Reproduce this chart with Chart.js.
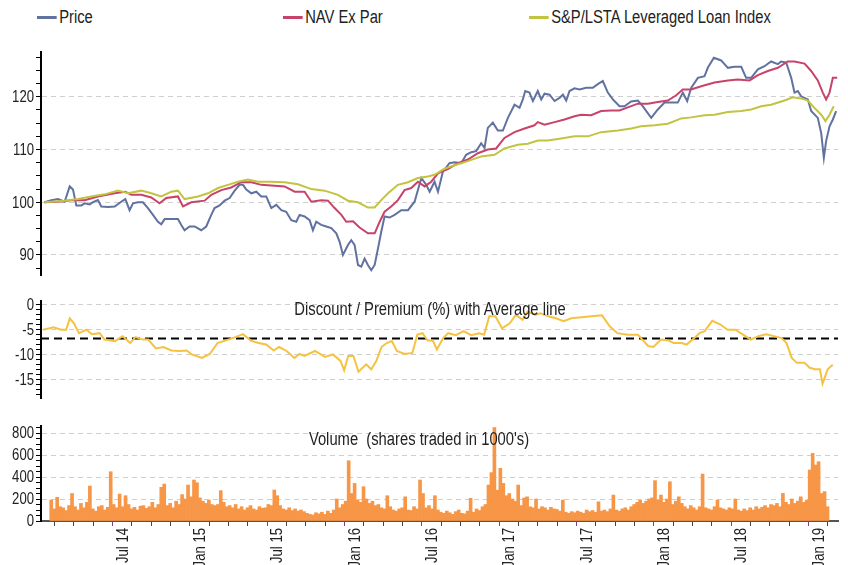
<!DOCTYPE html>
<html>
<head>
<meta charset="utf-8">
<script src="https://cdn.jsdelivr.net/npm/chart.js@4.4.1/dist/chart.umd.min.js"></script>
<style>
body { margin: 0; background: #fff; }
#wrap { position: relative; width: 848px; height: 565px; font-family: "Liberation Sans", Arial, sans-serif; color: #222; }
.panel { position: absolute; left: 0; width: 848px; }
.legend-item { position: absolute; top: 8px; font-size: 18px; white-space: nowrap; line-height: 18px; transform: scaleX(0.82); transform-origin: left center; }
.legend-item i { display: inline-block; width: 24px; height: 3px; vertical-align: middle; margin-right: 3px; margin-top: -2px; }
.ptitle { position: absolute; font-size: 18px; white-space: pre; transform: translateX(-50%) scaleX(0.82); z-index: 2; line-height: 18px; }
</style>
</head>
<body>
<div id="wrap">
  <div class="legend-item" style="left:37px"><i style="background:#6272a0"></i>Price</div>
  <div class="legend-item" style="left:283px"><i style="background:#c8436a"></i>NAV Ex Par</div>
  <div class="legend-item" style="left:529px"><i style="background:#c2c43f"></i>S&amp;P/LSTA Leveraged Loan Index</div>
  <div class="ptitle" style="left:430px; top:300px">Discount / Premium (%) with Average line</div>
  <div class="ptitle" style="left:419px; top:430px">Volume  (shares traded in 1000's)</div>
  <div class="panel" style="top:0; height:285px"><canvas id="main-chart" width="848" height="285"></canvas></div>
  <div class="panel" style="top:285px; height:125px"><canvas id="discount-chart" width="848" height="125"></canvas></div>
  <div class="panel" style="top:410px; height:155px"><canvas id="volume-chart" width="848" height="155"></canvas></div>
</div>
<script>
// x values are months since Jan 2014 (6 = Jul 14, 12 = Jan 15, ...)
const tickMonths = [6, 12, 18, 24, 30, 36, 42, 48, 54, 60]
const tickLabels = ['Jul 14', 'Jan 15', 'Jul 15', 'Jan 16', 'Jul 16', 'Jan 17', 'Jul 17', 'Jan 18', 'Jul 18', 'Jan 19']
const mainTicks = [90, 100, 110, 120]
const discountTicks = [0, -5, -10, -15]
const volumeTicks = [0, 200, 400, 600, 800]

// rebased to 100
const priceSeries = [
    [0.75,100.0],[1.26,100.4],[1.76,100.6],[2.27,100.1],[2.65,103.0],[2.9,102.4],[3.15,99.4],[3.53,99.4],[3.78,99.8],[4.16,99.6],
    [4.41,100.0],[4.79,100.4],[5.04,99.2],[5.55,99.1],[6.05,99.2],[6.55,100.1],[6.86,100.6],[7.18,98.5],[7.44,99.8],[7.81,100.0],
    [8.19,100.0],[8.57,98.9],[8.95,97.6],[9.33,96.3],[9.58,95.8],[9.83,96.8],[10.34,96.8],[10.84,96.8],[11.09,95.7],[11.34,94.7],
    [11.72,95.4],[12.1,95.4],[12.6,94.7],[12.98,95.4],[13.36,97.6],[13.61,98.9],[13.99,99.4],[14.37,100.3],[14.75,100.8],[15.13,102.2],
    [15.5,103.3],[15.76,103.3],[16.01,102.4],[16.39,101.7],[16.77,102.0],[17.14,101.1],[17.52,101.1],[17.9,98.9],[18.28,99.5],[18.66,98.5],
    [19.03,98.2],[19.41,96.6],[19.79,96.3],[20.04,97.6],[20.42,97.3],[20.8,96.6],[21.05,94.7],[21.3,96.3],[21.68,95.7],[22.06,95.4],
    [22.44,95.1],[22.82,94.1],[23.07,92.5],[23.32,90.0],[23.7,91.9],[23.95,92.8],[24.2,91.9],[24.46,88.1],[24.71,87.8],[24.96,89.3],
    [25.21,88.1],[25.46,87.1],[25.72,88.1],[25.97,91.2],[26.22,94.4],[26.47,97.3],[26.85,97.1],[27.23,97.6],[27.73,98.5],[28.24,98.5],
    [28.74,100.1],[29.25,104.6],[29.62,103.3],[29.88,102.0],[30.25,103.9],[30.51,102.0],[30.88,105.8],[31.38,107.4],[31.76,107.6],[32.27,107.4],
    [32.64,109.0],[33.02,109.5],[33.4,109.7],[33.78,111.2],[34.03,110.3],[34.28,114.1],[34.66,115.1],[35.04,113.6],[35.42,113.6],[35.8,116.0],
    [36.3,118.5],[36.68,117.9],[36.93,119.5],[37.11,121.1],[37.43,120.8],[37.69,119.2],[38.06,121.1],[38.32,119.5],[38.57,120.6],[38.95,120.4],
    [39.33,119.2],[39.7,119.8],[39.96,120.4],[40.21,119.3],[40.46,121.1],[40.84,121.6],[41.22,121.4],[41.72,121.7],[42.22,121.7],[42.6,122.4],
    [42.98,123.0],[43.36,120.8],[43.74,119.5],[44.24,118.2],[44.62,118.2],[45.12,119.1],[45.63,119.3],[46.01,118.2],[46.64,116.0],[47.14,117.6],
    [47.65,118.9],[48.15,118.9],[48.65,118.9],[49.03,120.8],[49.36,119.2],[49.66,121.7],[50.17,123.6],[50.67,123.9],[50.92,125.5],[51.38,127.4],
    [51.93,126.9],[52.44,125.5],[52.94,125.7],[53.45,125.7],[53.82,123.6],[54.2,123.6],[54.71,125.2],[55.21,125.8],[55.71,126.7],[56.22,126.2],
    [56.47,126.7],[56.85,126.5],[57.23,123.6],[57.48,120.8],[57.73,121.1],[57.98,120.1],[58.49,119.5],[58.74,117.3],[59.24,116.0],[59.5,113.1],
    [59.7,108.4],[59.87,111.6],[60.13,114.4],[60.38,115.7],[60.63,117.3]
]

const navSeries = [
    [0.75,100.0],[1.76,100.1],[2.77,100.4],[3.78,100.4],[4.79,101.1],[6.05,101.7],[6.86,102.0],[7.31,101.4],[8.07,101.4],[8.82,100.9],
    [9.45,99.8],[9.96,100.8],[10.84,101.1],[11.22,99.2],[11.85,100.0],[12.86,100.3],[13.36,101.4],[14.12,102.3],[14.87,102.8],[15.63,103.8],
    [16.39,103.8],[17.14,103.3],[17.9,103.2],[18.91,103.0],[19.67,102.0],[20.42,102.0],[20.93,100.1],[21.68,100.4],[22.19,100.3],[22.69,98.9],
    [23.2,97.6],[23.57,96.3],[24.08,96.4],[24.58,95.2],[25.21,94.1],[25.72,94.1],[26.1,96.3],[26.47,98.2],[26.97,99.2],[27.48,100.4],
    [27.98,102.3],[28.49,102.7],[28.99,103.9],[29.5,103.0],[30.0,103.9],[30.51,105.5],[30.88,105.9],[31.26,106.3],[32.01,107.4],[32.77,108.1],
    [33.53,109.3],[34.28,110.0],[34.91,110.2],[35.54,112.2],[36.3,113.3],[37.06,114.0],[37.81,114.6],[38.06,115.2],[38.57,114.7],[39.33,115.2],
    [40.08,115.7],[40.84,116.3],[41.34,116.6],[42.1,116.5],[42.85,117.3],[43.61,117.4],[44.24,117.4],[44.87,118.0],[45.63,118.7],[46.38,118.7],
    [47.14,119.0],[47.9,119.3],[48.53,120.3],[49.03,121.4],[49.66,121.4],[50.42,122.0],[51.43,122.7],[52.44,123.1],[53.19,123.3],[54.08,123.1],
    [54.71,124.1],[55.46,124.9],[56.22,125.5],[56.97,126.7],[57.48,126.7],[58.24,126.3],[58.74,124.9],[59.24,123.1],[59.62,120.8],[59.87,119.5],
    [60.13,120.8],[60.38,123.6],[60.71,123.6]
]

const loanIndexSeries = [
    [0.75,100.0],[2.27,100.3],[3.28,100.6],[4.28,101.1],[5.29,101.5],[6.3,102.2],[7.06,101.7],[8.07,102.2],[8.82,101.7],[9.58,101.1],
    [10.34,102.0],[10.84,102.2],[11.34,100.6],[12.35,101.1],[13.11,101.7],[13.87,102.7],[14.62,103.3],[15.38,103.9],[16.13,104.3],[16.89,103.9],
    [17.9,103.9],[18.91,103.8],[19.92,103.4],[20.93,102.5],[21.93,102.2],[22.94,101.4],[23.7,100.3],[24.46,100.0],[25.21,99.0],[25.72,99.0],
    [26.22,100.4],[26.73,101.7],[27.48,103.3],[28.24,103.8],[28.99,104.6],[29.75,104.9],[30.25,105.2],[30.88,106.2],[31.26,106.6],[32.01,107.2],
    [32.77,107.8],[33.78,108.7],[34.79,109.0],[35.54,110.2],[36.55,110.9],[37.31,111.1],[38.06,111.7],[38.82,111.7],[39.83,112.1],[40.84,112.5],
    [41.85,112.5],[42.85,113.3],[44.12,113.6],[45.12,114.0],[45.88,114.4],[46.89,114.6],[47.9,114.9],[48.91,115.9],[49.66,116.1],[50.67,116.5],
    [51.43,116.6],[52.44,117.1],[53.45,117.3],[54.2,117.6],[54.96,118.2],[55.71,118.5],[56.72,119.3],[57.35,119.9],[57.98,119.7],[58.49,119.3],
    [58.99,117.9],[59.5,116.6],[59.82,115.4],[60.13,116.6],[60.45,118.2]
]

// discount / premium to NAV, %
const discountSeries = [
    [0.64,-5.0],[1.42,-4.5],[2.0,-5.0],[2.38,-5.0],[2.66,-2.7],[2.97,-3.7],[3.35,-5.7],[3.94,-5.0],[4.32,-5.9],[4.91,-5.7],
    [5.29,-7.0],[6.07,-7.3],[6.65,-6.3],[7.23,-7.7],[7.62,-6.5],[8.2,-7.0],[8.59,-7.0],[9.17,-8.8],[9.75,-8.5],[10.34,-9.2],
    [10.92,-9.3],[11.5,-9.2],[11.89,-10.0],[12.66,-10.7],[13.25,-9.9],[13.83,-7.7],[14.41,-7.2],[15.18,-6.5],[15.77,-5.9],[16.35,-7.2],
    [16.93,-7.7],[17.51,-8.0],[18.09,-9.2],[18.48,-8.5],[19.06,-9.3],[19.65,-10.7],[20.03,-9.9],[20.42,-10.3],[21.2,-9.3],[21.97,-10.5],
    [22.55,-10.0],[23.14,-11.3],[23.41,-13.2],[23.72,-10.3],[24.11,-10.3],[24.5,-13.5],[25.08,-12.0],[25.46,-13.0],[25.85,-11.3],[26.24,-8.5],
    [26.63,-7.7],[27.02,-7.3],[27.4,-9.3],[27.99,-9.9],[28.57,-9.7],[28.95,-6.0],[29.34,-5.7],[29.73,-7.2],[30.12,-7.2],[30.43,-9.0],
    [30.9,-6.7],[31.28,-5.7],[31.87,-6.1],[32.45,-5.3],[33.03,-6.1],[33.61,-5.7],[34.0,-6.0],[34.39,-2.3],[34.85,-2.3],[35.36,-4.7],
    [35.94,-3.7],[36.4,-2.0],[36.91,-3.0],[37.29,-1.3],[37.88,-2.0],[38.26,-1.7],[38.85,-2.3],[39.43,-2.7],[40.01,-3.3],[40.59,-2.7],
    [41.37,-2.5],[42.14,-2.3],[42.92,-2.1],[43.5,-4.3],[44.08,-5.7],[44.86,-6.0],[45.63,-6.0],[46.41,-8.3],[46.8,-8.5],[47.38,-7.0],
    [47.96,-7.2],[48.35,-7.7],[48.93,-7.7],[49.32,-8.0],[49.9,-6.7],[50.29,-5.7],[50.68,-5.3],[51.26,-3.2],[51.84,-3.9],[52.42,-5.0],
    [53.0,-5.0],[53.59,-6.0],[54.17,-7.0],[54.75,-6.3],[55.33,-5.9],[55.92,-6.3],[56.5,-6.7],[56.88,-7.7],[57.27,-10.7],[57.66,-11.7],
    [58.24,-11.7],[58.63,-12.7],[59.02,-13.0],[59.4,-13.0],[59.6,-15.9],[59.99,-13.0],[60.37,-12.1]
]
const averageDiscount = -6.8

// weekly volume, thousands of shares, first week mid Jan 2014
const volumeWeekly = [
    190, 110, 215, 130, 120, 95, 140, 250, 130, 100, 160, 120, 170, 318, 110, 90, 130, 140, 100, 125,
    448, 150, 120, 245, 130, 230, 150, 110, 125, 100, 135, 140, 115, 130, 170, 120,
    150, 306, 336, 140, 160, 120, 180, 150, 240, 200, 327, 220, 373, 348, 210, 180, 160, 190, 150, 140,
    150, 276, 170, 130, 140, 120, 150, 110, 130, 100, 120, 140, 110, 100, 130, 115, 120, 150, 140, 282,
    230, 140, 110, 100, 120, 95, 110, 90, 100, 85, 70, 60, 55, 75, 65, 80, 60, 90, 70, 100,
    200, 120, 150, 180, 548, 250, 342, 190, 170, 312, 200, 160, 180, 140, 150,
    120, 110, 230, 130, 100, 90, 110, 120, 220, 100, 95, 130, 110, 373, 250, 120, 140, 110, 230, 100,
    80, 70, 90, 75, 60, 85, 100, 70, 65, 90, 206, 80, 110, 95, 130, 150,
    327, 440, 850, 280, 479, 342, 230, 250, 200, 180,
    327, 140, 210, 220, 130, 120, 200, 110, 130, 120, 100, 125, 110, 105,
    90, 190, 80, 70, 85, 75, 90, 80, 70, 100, 85, 95, 80, 175, 90, 100, 85, 110, 236, 100, 90, 110, 120, 100, 130,
    150, 170, 190, 160, 180, 200, 210, 367, 190, 236, 170, 200, 357, 150, 180, 220, 160,
    130, 110, 140, 120, 100, 130, 427, 120, 110, 100, 130, 190, 120, 110, 100, 120, 110, 200, 100, 90, 110, 95, 120, 100, 130, 110, 125, 140,
    120, 150, 140, 160, 130, 251, 170, 150, 200, 160, 180, 220, 170, 190, 464,
    615, 509, 539, 250, 267, 130
]
const firstWeekMonth = 0.5

const X_MIN = 0.48
const X_MAX = 60.77
// no condensed face installed, so tick labels get squeezed by hand
const LABEL_FONT = '16px "Liberation Sans", Arial, sans-serif'
const SQUEEZE = 0.82

Chart.defaults.color = '#222'
Chart.defaults.animation = false

const toPoints = series => series.map(p => ({ x: p[0], y: p[1] }))

function isMajor(v, step) {
    return Math.abs(v / step - Math.round(v / step)) < 1e-6
}

const narrowTickLabels = {
    id: 'narrowTickLabels',
    afterDraw(chart, args, opts) {
        const ctx = chart.ctx
        ctx.save()
        ctx.fillStyle = '#222'
        ctx.font = LABEL_FONT
        ctx.textAlign = 'right'
        ctx.textBaseline = 'middle'
        const y = chart.scales.y
        for (const v of opts.yValues) {
            ctx.save()
            ctx.translate(y.right - 7, y.getPixelForValue(v) + 1)
            ctx.scale(SQUEEZE, 1)
            ctx.fillText(String(v), 0, 0)
            ctx.restore()
        }
        if (opts.xAxis) {
            const x = chart.scales.x
            tickMonths.forEach((m, i) => {
                ctx.save()
                ctx.translate(x.getPixelForValue(m) + 1, x.top + 7)
                ctx.rotate(-Math.PI / 2)
                ctx.scale(SQUEEZE, 1)
                ctx.fillText(tickLabels[i], 0, 0)
                ctx.restore()
            })
        }
        ctx.restore()
    }
}

function yAxis(min, max, majorStep, minorStep) {
    return {
        min: min,
        max: max,
        afterBuildTicks: scale => {
            const ticks = []
            for (let v = Math.ceil(min / minorStep) * minorStep; v <= max + 1e-9; v += minorStep) {
                ticks.push({ value: Math.round(v * 100) / 100 })
            }
            scale.ticks = ticks
        },
        afterFit: scale => { scale.width = 41 },
        ticks: { display: false, autoSkip: false },
        grid: {
            color: ctx => (ctx.tick && isMajor(ctx.tick.value, majorStep)) ? '#cfcfcf' : 'rgba(0,0,0,0)',
            lineWidth: 1,
            tickColor: '#000',
            tickWidth: 1,
            tickLength: 5
        },
        border: { color: '#000', width: 2, dash: [5, 4] }
    }
}

function hiddenX() {
    return { type: 'linear', min: X_MIN, max: X_MAX, display: false }
}

function lineSet(label, series, color) {
    return {
        label: label,
        data: toPoints(series),
        borderColor: color,
        backgroundColor: color,
        borderWidth: 2,
        pointRadius: 0,
        tension: 0
    }
}

const mainChart = new Chart(document.getElementById('main-chart'), {
    type: 'line',
    data: {
        datasets: [
            lineSet('S&P/LSTA Leveraged Loan Index', loanIndexSeries, '#c2c43f'),
            lineSet('NAV Ex Par', navSeries, '#c8436a'),
            lineSet('Price', priceSeries, '#6272a0')
        ]
    },
    options: {
        responsive: false,
        layout: { padding: { top: 52, bottom: 10, left: 0, right: 10 } },
        scales: {
            x: hiddenX(),
            y: yAxis(86.2, 128.5, 10, 2.5)
        },
        plugins: {
            legend: { display: false },
            tooltip: { enabled: false },
            narrowTickLabels: { yValues: mainTicks }
        }
    },
    plugins: [narrowTickLabels]
})

const discountChart = new Chart(document.getElementById('discount-chart'), {
    type: 'line',
    data: {
        datasets: [
            lineSet('Discount / Premium', discountSeries, '#f5c242'),
            {
                label: 'Average',
                data: [{ x: X_MIN, y: averageDiscount }, { x: X_MAX, y: averageDiscount }],
                borderColor: '#000',
                borderWidth: 2,
                borderDash: [8, 5],
                pointRadius: 0
            }
        ]
    },
    options: {
        responsive: false,
        layout: { padding: { top: 16, bottom: 12, left: 0, right: 10 } },
        scales: {
            x: hiddenX(),
            y: yAxis(-18.8, 0.8, 5, 1)
        },
        plugins: {
            legend: { display: false },
            tooltip: { enabled: false },
            narrowTickLabels: { yValues: discountTicks }
        }
    },
    plugins: [narrowTickLabels]
})

const volumeChart = new Chart(document.getElementById('volume-chart'), {
    type: 'bar',
    data: {
        datasets: [{
            label: 'Volume',
            data: volumeWeekly.map((v, i) => ({ x: firstWeekMonth + i * 12 / 52, y: v })),
            backgroundColor: '#f79646',
            borderWidth: 0,
            barPercentage: 1,
            categoryPercentage: 1
        }]
    },
    options: {
        responsive: false,
        layout: { padding: { top: 16, bottom: 0, left: 0, right: 10 } },
        scales: {
            x: {
                type: 'linear',
                min: X_MIN,
                max: X_MAX,
                afterBuildTicks: scale => {
                    const ticks = []
                    for (let m = 1.5; m <= X_MAX; m += 1.5) ticks.push({ value: m })
                    scale.ticks = ticks
                },
                afterFit: scale => { scale.height = 44 },
                ticks: { display: false, autoSkip: false },
                grid: {
                    drawOnChartArea: false,
                    tickLength: 5,
                    tickWidth: 1,
                    tickColor: ctx => (ctx.tick && tickMonths.includes(ctx.tick.value)) ? '#7b3f8f' : '#444'
                },
                border: { color: '#555', width: 2 }
            },
            y: yAxis(0, 864, 200, 50)
        },
        plugins: {
            legend: { display: false },
            tooltip: { enabled: false },
            narrowTickLabels: { yValues: volumeTicks, xAxis: true }
        }
    },
    plugins: [narrowTickLabels]
})
</script>
</body>
</html>
